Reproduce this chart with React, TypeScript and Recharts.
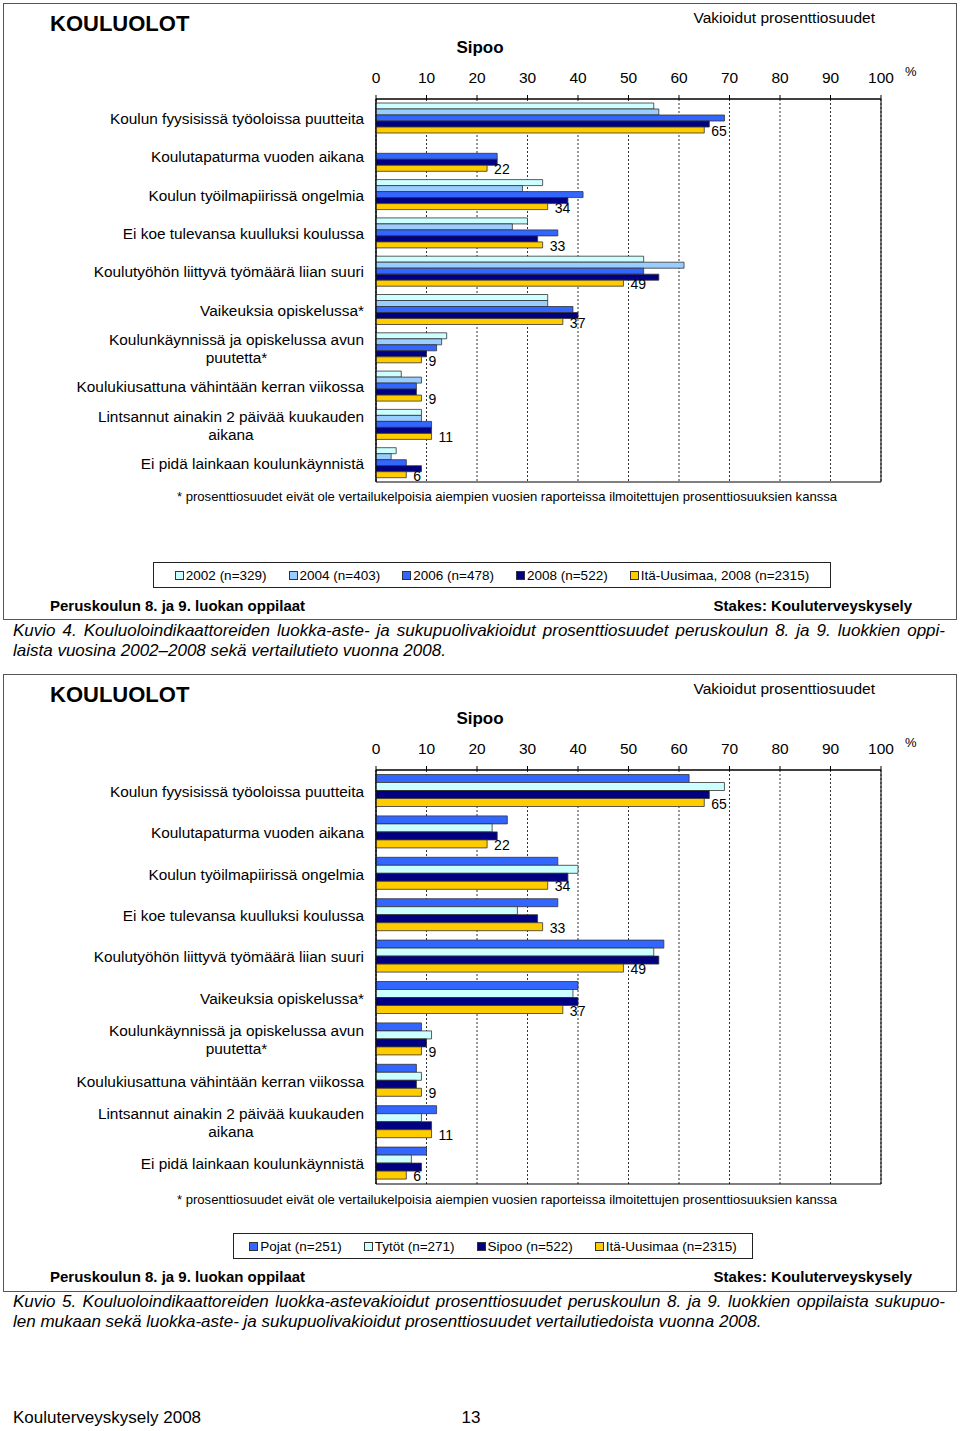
import React from 'react';
import { BarChart, Bar, XAxis, YAxis, CartesianGrid, LabelList, ReferenceArea } from 'recharts';

// category labels, '\n' marks the two-line ones
const categories = [
  'Koulun fyysisissä työoloissa puutteita',
  'Koulutapaturma vuoden aikana',
  'Koulun työilmapiirissä ongelmia',
  'Ei koe tulevansa kuulluksi koulussa',
  'Koulutyöhön liittyvä työmäärä liian suuri',
  'Vaikeuksia opiskelussa*',
  'Koulunkäynnissä ja opiskelussa avun\npuutetta*',
  'Koulukiusattuna vähintään kerran viikossa',
  'Lintsannut ainakin 2 päivää kuukauden\naikana',
  'Ei pidä lainkaan koulunkäynnistä',
];

const xTicks = [0, 10, 20, 30, 40, 50, 60, 70, 80, 90, 100];

// Kuvio 4: years
const v2002 = [55, null, 33, 30, 53, 34, 14, 5, 9, 4];
const v2004 = [56, null, 29, 27, 61, 34, 13, 9, 9, 3];
const v2006 = [69, 24, 41, 36, 53, 39, 12, 8, 11, 6];
const v2008 = [66, 24, 38, 32, 56, 40, 10, 8, 11, 9];
const itaUusimaa = [65, 22, 34, 33, 49, 37, 9, 9, 11, 6];

// Kuvio 5: gender
const pojat = [62, 26, 36, 36, 57, 40, 9, 8, 12, 10];
const tytot = [69, 23, 40, 28, 55, 39, 11, 9, 9, 7];
const sipoo = [66, 24, 38, 32, 56, 40, 10, 8, 11, 9];

const FONT = '"Liberation Sans", Arial, sans-serif';
const CAT_SIZE = 15.4;

const series1 = [
  { key: 'a', name: '2002 (n=329)', color: '#CCFFFF', values: v2002 },
  { key: 'b', name: '2004 (n=403)', color: '#99CCFF', values: v2004 },
  { key: 'c', name: '2006 (n=478)', color: '#3366FF', values: v2006 },
  { key: 'd', name: '2008 (n=522)', color: '#000080', values: v2008 },
  { key: 'e', name: 'Itä-Uusimaa, 2008 (n=2315)', color: '#FFCC00', values: itaUusimaa },
];

const series2 = [
  { key: 'a', name: 'Pojat (n=251)', color: '#3366FF', values: pojat },
  { key: 'b', name: 'Tytöt (n=271)', color: '#CCFFFF', values: tytot },
  { key: 'c', name: 'Sipoo (n=522)', color: '#000080', values: sipoo },
  { key: 'd', name: 'Itä-Uusimaa (n=2315)', color: '#FFCC00', values: itaUusimaa },
];

let ctx: CanvasRenderingContext2D | null = null;
function measure(s: string) {
  if (!ctx) {
    ctx = document.createElement('canvas').getContext('2d');
    if (ctx) ctx.font = CAT_SIZE + 'px "Liberation Sans"';
  }
  return ctx ? ctx.measureText(s).width : s.length * 7;
}

const CategoryTick = (props: any) => {
  const { y, payload } = props;
  const lines = String(payload.value).split('\n');
  const style = { fontFamily: FONT, fontSize: CAT_SIZE, fill: '#000' };
  if (lines.length === 1) {
    return (
      <text x={364} y={y} dy={6} textAnchor="end" style={style}>
        {lines[0]}
      </text>
    );
  }
  const w = Math.max(...lines.map(measure));
  const cx = 364 - w / 2;
  return (
    <text textAnchor="middle" style={style}>
      {lines.map((l, i) => (
        <tspan key={i} x={cx} y={y + (i - (lines.length - 1) / 2) * 18 + 6}>
          {l}
        </tspan>
      ))}
    </text>
  );
};

const ValueLabel = (props: any) => {
  const { x, y, width, height, value } = props;
  if (value == null) return null;
  return (
    <text x={x + width + 7} y={y + height / 2 + 6} fontSize={14} fill="#000" fontFamily={FONT}>
      {value}
    </text>
  );
};

function Txt({ x, y, size, children, bold, italic, anchor, width }: any) {
  const style: React.CSSProperties = {
    position: 'absolute',
    top: y - size * 0.58,
    fontSize: size,
    lineHeight: 1.15 + 'em',
    fontFamily: FONT,
    fontWeight: bold ? 'bold' : 'normal',
    fontStyle: italic ? 'italic' : 'normal',
    whiteSpace: 'nowrap',
    color: '#000',
  };
  if (anchor === 'end') style.right = 960 - x;
  else if (anchor === 'middle') {
    style.left = x - 400;
    style.width = 800;
    style.textAlign = 'center';
  } else style.left = x;
  if (width) style.width = width;
  return <div style={style}>{children}</div>;
}

function Legend({ items, left, top, width }: any) {
  return (
    <div
      style={{
        position: 'absolute',
        left,
        top,
        width,
        height: 26,
        boxSizing: 'border-box',
        border: '1px solid #222',
        display: 'flex',
        alignItems: 'center',
        justifyContent: 'center',
        gap: 22,
        fontFamily: FONT,
        fontSize: 13.5,
      }}
    >
      {items.map((s: any) => (
        <div key={s.key} style={{ display: 'flex', alignItems: 'center' }}>
          <span
            style={{
              display: 'inline-block',
              width: 7,
              height: 7,
              background: s.color,
              border: '1px solid #333',
              marginRight: 2,
            }}
          />
          {s.name}
        </div>
      ))}
    </div>
  );
}

function KouluChart({ series, top, height, marginTop, gap }: any) {
  const data = categories.map((name, i) => {
    const row: any = { name };
    series.forEach((s: any) => (row[s.key] = s.values[i]));
    return row;
  });
  const last = series[series.length - 1].key;
  return (
    <div style={{ position: 'absolute', left: 0, top }}>
      <BarChart
        width={960}
        height={height}
        data={data}
        layout="vertical"
        margin={{ top: marginTop, right: 79, bottom: 10, left: 0 }}
        barGap={0}
        barCategoryGap={gap}
      >
        <CartesianGrid horizontal={false} strokeDasharray="2 2" stroke="#333" />
        <XAxis
          type="number"
          orientation="top"
          domain={[0, 100]}
          ticks={xTicks}
          height={38}
          tickSize={4}
          tickMargin={12}
          stroke="#000"
          tick={{ fill: '#000', fontSize: 15.5, fontFamily: FONT }}
        />
        <YAxis
          type="category"
          dataKey="name"
          width={376}
          interval={0}
          tickLine={false}
          stroke="#000"
          tick={(p: any) => <CategoryTick {...p} />}
        />
        <ReferenceArea x1={0} x2={100} fill="none" stroke="#000" strokeWidth={1} />
        {series.map((s: any) => (
          <Bar
            key={s.key}
            dataKey={s.key}
            fill={s.color}
            stroke="#333"
            strokeWidth={0.8}
            isAnimationActive={false}
          >
            {s.key === last && <LabelList dataKey={s.key} content={(p: any) => <ValueLabel {...p} />} />}
          </Bar>
        ))}
      </BarChart>
    </div>
  );
}

const footnote =
  '* prosenttiosuudet eivät ole vertailukelpoisia aiempien vuosien raporteissa ilmoitettujen prosenttiosuuksien kanssa';

function Frame({ top, height }: any) {
  return (
    <div
      style={{
        position: 'absolute',
        left: 3,
        top,
        width: 954,
        height,
        boxSizing: 'border-box',
        border: '1.5px solid #555',
      }}
    />
  );
}

function Header({ top }: any) {
  return (
    <>
      <Txt x={50} y={top + 21} size={22} bold>KOULUOLOT</Txt>
      <Txt x={875} y={top + 15} size={15.5} anchor="end">Vakioidut prosenttiosuudet</Txt>
      <Txt x={480} y={top + 45} size={17} bold anchor="middle">Sipoo</Txt>
      <Txt x={905} y={top + 70} size={13}>%</Txt>
    </>
  );
}

function Footer({ top }: any) {
  return (
    <>
      <Txt x={50} y={top} size={15} bold>Peruskoulun 8. ja 9. luokan oppilaat</Txt>
      <Txt x={912} y={top} size={15} bold anchor="end">Stakes: Kouluterveyskysely</Txt>
    </>
  );
}

function Caption({ top, lines }: any) {
  return (
    <>
      {lines.map((l: string, i: number) => (
        <div
          key={i}
          style={{
            position: 'absolute',
            left: 13,
            top: top + i * 20 - 10,
            width: i === 0 ? 932 : undefined,
            fontFamily: FONT,
            fontStyle: 'italic',
            fontSize: 17,
            lineHeight: '19px',
            textAlign: 'justify',
            textAlignLast: i === 0 ? 'justify' : 'left',
            whiteSpace: 'nowrap',
          }}
        >
          {l}
        </div>
      ))}
    </>
  );
}

export default function App() {
  return (
    <div style={{ position: 'absolute', left: 0, top: 0, width: 960, height: 1431, background: '#fff', overflow: 'hidden' }}>
      <Frame top={3} height={617} />
      <Header top={3} />
      <KouluChart series={series1} top={0} height={492} marginTop={61} gap={4} />
      <Txt x={507} y={497} size={13.1} anchor="middle">{footnote}</Txt>
      <Legend items={series1} left={153} top={562} width={678} />
      <Footer top={606} />
      <Caption
        top={631}
        lines={[
          'Kuvio 4. Kouluoloindikaattoreiden luokka-aste- ja sukupuolivakioidut prosenttiosuudet peruskoulun 8. ja 9. luokkien oppi-',
          'laista vuosina 2002–2008 sekä vertailutieto vuonna 2008.',
        ]}
      />

      <Frame top={674} height={618} />
      <Header top={674} />
      <KouluChart series={series2} top={672} height={522} marginTop={60} gap={4.5} />
      <Txt x={507} y={1200} size={13.1} anchor="middle">{footnote}</Txt>
      <Legend items={series2} left={233} top={1233} width={520} />
      <Footer top={1277} />
      <Caption
        top={1302}
        lines={[
          'Kuvio 5. Kouluoloindikaattoreiden luokka-astevakioidut prosenttiosuudet peruskoulun 8. ja 9. luokkien oppilaista sukupuo-',
          'len mukaan sekä luokka-aste- ja sukupuolivakioidut prosenttiosuudet vertailutiedoista vuonna 2008.',
        ]}
      />

      <Txt x={13} y={1418} size={17}>Kouluterveyskysely 2008</Txt>
      <Txt x={471} y={1418} size={17} anchor="middle">13</Txt>
    </div>
  );
}
